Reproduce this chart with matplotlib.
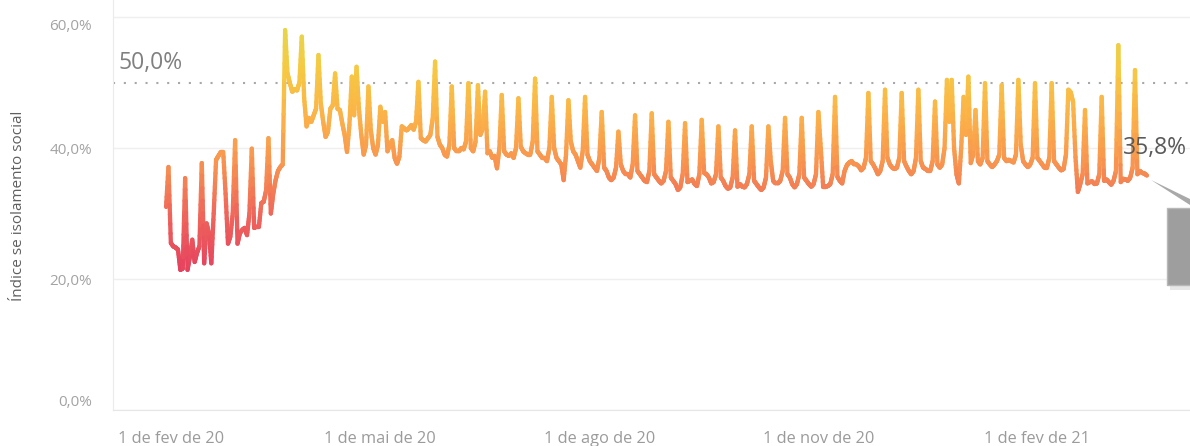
import numpy as np
import pandas as pd
import matplotlib
matplotlib.use("Agg")
import matplotlib.pyplot as plt
import matplotlib.dates as mdates
from matplotlib.collections import LineCollection
from matplotlib.colors import LinearSegmentedColormap, Normalize
from matplotlib.patches import Rectangle, Polygon
from matplotlib.transforms import ScaledTranslation

# índice diário de isolamento social (%), por mês
fev_20 = [31.0, 37.1, 25.5, 25.0, 24.8, 24.5, 21.4, 21.6, 35.4, 21.4, 23.4, 26.0, 22.6, 24.0, 25.0,
          37.7, 22.4, 28.5, 27.0, 22.4, 30.0, 38.2, 38.8, 39.4, 39.4, 33.0, 25.4, 26.5, 30.0]
mar_20 = [41.2, 25.4, 27.0, 27.5, 27.8, 26.7, 30.0, 39.9, 27.8, 28.0, 28.0, 31.6, 31.8, 33.5, 41.5,
          30.0, 33.0, 35.1, 36.5, 37.1, 37.5, 58.0, 51.4, 49.9, 48.6, 49.0, 48.8, 50.0, 57.0, 47.6, 43.3]
abr_20 = [44.6, 44.0, 45.0, 46.0, 54.2, 46.8, 44.0, 41.7, 42.5, 46.0, 46.5, 51.4, 46.0, 45.8, 43.8,
          42.0, 39.4, 43.5, 50.9, 45.0, 52.4, 46.0, 42.0, 39.0, 40.5, 49.4, 42.7, 40.0, 39.0, 40.5]
mai_20 = [46.3, 44.0, 45.5, 39.5, 40.5, 41.2, 38.5, 37.6, 38.7, 43.3, 43.0, 42.7, 43.0, 43.5, 42.8,
          44.0, 50.1, 41.5, 41.2, 41.0, 41.5, 42.0, 44.5, 53.2, 41.7, 40.5, 40.0, 39.0, 38.7, 40.5, 49.4]
jun_20 = [40.0, 39.5, 39.5, 40.0, 39.8, 41.0, 49.9, 40.0, 39.5, 41.0, 49.6, 42.0, 43.0, 48.6, 39.2,
          39.5, 38.5, 38.8, 36.9, 40.0, 48.1, 39.5, 39.0, 38.8, 39.2, 38.5, 40.0, 47.6, 40.2, 39.5]
jul_20 = [39.2, 39.0, 39.0, 41.0, 50.6, 39.5, 39.0, 38.5, 38.5, 38.0, 40.0, 47.8, 40.0, 38.5, 38.0,
          37.5, 35.1, 39.0, 47.3, 41.0, 39.5, 39.0, 38.0, 37.0, 39.5, 47.8, 39.0, 38.0, 37.5, 37.0, 36.5]
ago_20 = [38.5, 45.5, 37.0, 36.5, 35.5, 35.1, 35.5, 37.0, 42.5, 37.5, 36.5, 36.0, 36.0, 35.5, 37.5,
          45.0, 36.5, 36.0, 35.5, 35.0, 34.8, 36.5, 45.3, 36.0, 35.5, 35.0, 34.6, 35.0, 36.5, 44.0, 35.5]
set_20 = [35.0, 34.5, 33.6, 34.0, 36.0, 43.8, 34.8, 35.0, 35.2, 34.5, 34.2, 36.0, 44.3, 36.2, 36.0,
          35.5, 34.6, 34.8, 36.0, 43.3, 35.5, 35.0, 34.2, 33.8, 34.0, 35.5, 42.7, 34.1, 34.5, 34.1]
out_20 = [34.0, 34.5, 36.0, 43.3, 35.0, 34.5, 34.0, 33.6, 34.0, 35.5, 43.3, 38.0, 35.0, 34.6, 34.6,
          35.0, 36.5, 44.6, 36.0, 35.5, 34.5, 34.0, 34.5, 36.0, 44.6, 35.5, 35.0, 34.5, 34.1, 34.5, 36.0]
nov_20 = [45.5, 40.0, 34.1, 34.1, 34.2, 34.5, 36.0, 47.8, 35.6, 35.0, 34.6, 36.5, 37.4, 37.8, 38.0,
          37.5, 37.5, 37.2, 36.6, 37.0, 38.5, 48.4, 38.0, 37.5, 36.8, 36.0, 36.5, 38.0, 48.9, 38.5]
dez_20 = [37.5, 37.0, 36.8, 37.0, 38.5, 48.4, 38.0, 37.2, 36.5, 36.0, 36.5, 38.5, 48.9, 38.0, 37.0,
          36.8, 36.5, 36.5, 38.0, 47.1, 37.5, 37.0, 37.5, 40.0, 50.4, 44.0, 50.4, 40.0, 36.0, 34.6, 40.0]
jan_21 = [47.8, 42.0, 50.9, 37.7, 39.0, 45.8, 38.0, 37.5, 38.5, 49.9, 38.0, 37.5, 37.1, 37.5, 38.0,
          39.0, 49.6, 38.5, 38.0, 38.2, 38.0, 37.8, 39.0, 50.4, 40.5, 38.0, 37.5, 37.1, 37.5, 38.5, 49.9]
fev_21 = [38.5, 38.0, 37.5, 37.0, 37.0, 38.5, 49.9, 38.0, 37.5, 37.0, 36.6, 36.8, 39.0, 48.9, 48.5,
          47.0, 38.6, 33.3, 34.5, 36.0, 45.8, 34.6, 34.8, 34.9, 34.5, 34.6, 36.0, 47.8]
mar_21 = [35.0, 35.2, 34.8, 34.4, 35.0, 36.5, 55.7, 34.8, 35.3, 35.2, 35.0, 35.5, 37.0, 51.9, 36.0,
          36.5, 36.2, 36.1, 35.8]

inicio = "2020-02-01"
ticks_x = ["2020-02-01", "2020-05-01", "2020-08-01", "2020-11-01", "2021-02-01"]
rotulos_x = ["1 de fev de 20", "1 de mai de 20", "1 de ago de 20", "1 de nov de 20", "1 de fev de 21"]
ticks_y = [0, 20, 40, 60]
rotulos_y = ["0,0%", "20,0%", "40,0%", "60,0%"]
referencia = 50.0
rotulo_ref = "50,0%"

serie = (fev_20 + mar_20 + abr_20 + mai_20 + jun_20 + jul_20 + ago_20 + set_20 + out_20
         + nov_20 + dez_20 + jan_21 + fev_21 + mar_21)
datas = pd.date_range(inicio, periods=len(serie), freq="D")

plt.rcParams["font.family"] = ["Open Sans", "DejaVu Sans"]

W, H = 1190, 446
fig = plt.figure(figsize=(W / 100, H / 100), dpi=100)
ax = fig.add_axes([113 / W, 36 / H, 1 - 113 / W, 410 / H])

x = mdates.date2num(datas)
y = np.array(serie)

# cor segue o valor (vermelho baixo -> amarelo alto); cada trecho é repartido só para pintar o degradê
cmap = LinearSegmentedColormap.from_list("sol", [
    (0.00, "#e43c5f"), (0.26, "#ef665b"), (0.47, "#f8954f"),
    (0.66, "#fbb348"), (0.84, "#f6c943"), (1.00, "#e6d648")])
norm = Normalize(vmin=20, vmax=58)
t = np.linspace(0, 1, 9)
segs, vals = [], []
for i in range(len(x) - 1):
    px = x[i] + (x[i + 1] - x[i]) * t
    py = y[i] + (y[i + 1] - y[i]) * t
    for j in range(len(t) - 1):
        segs.append([(px[j], py[j]), (px[j + 1], py[j + 1])])
        vals.append((py[j] + py[j + 1]) / 2)
lc = LineCollection(segs, cmap=cmap, norm=norm, linewidths=3.1, capstyle="round", joinstyle="round", zorder=3)
lc.set_array(np.array(vals))
ax.add_collection(lc)

x0 = mdates.date2num(pd.Timestamp(inicio))
ax.set_xlim(x0 - 22.3, x0 + 430.1)
ax.set_ylim(0, 62.6)

ax.axhline(referencia, color="#a8a8a8", lw=1.5, linestyle=(0, (1, 4.2)), zorder=2)
ax.text(5 / 1077, 53.0, rotulo_ref, transform=ax.get_yaxis_transform(), fontsize=16.5,
        color="#808080", va="center", ha="left")

# rótulo do último valor
ultimo = serie[-1]
ax.text(x0 + (1123 - 166) / 2.381, 40.0, f"{ultimo:.1f}%".replace(".", ","), fontsize=16.5,
        color="#5a5a5a", va="center", ha="left", clip_on=False, zorder=5)

# caixa cinza de destaque à direita
def fx(p):
    return p / W

def fy(p):
    return 1 - p / H

fig.patches.append(Rectangle((fx(1170), fy(290)), fx(40), 78 / H, transform=fig.transFigure,
                             facecolor="#d8d8d8", edgecolor="none", alpha=0.6, zorder=4))
fig.patches.append(Rectangle((fx(1167), fy(285)), fx(40), 77 / H, transform=fig.transFigure,
                             facecolor="#9e9e9e", edgecolor="#b8b8b8", lw=1, zorder=5))
fig.patches.append(Polygon([(fx(1151), fy(180)), (fx(1190), fy(199)), (fx(1190), fy(205))],
                           closed=True, transform=fig.transFigure, facecolor="#a9a9a9",
                           edgecolor="none", zorder=5))

ax.set_yticks(ticks_y)
ax.set_yticklabels(rotulos_y)
ax.set_xticks([mdates.date2num(pd.Timestamp(d)) for d in ticks_x])
ax.set_xticklabels(rotulos_x)
ax.grid(axis="y", color="#efefef", lw=1, zorder=0)
ax.tick_params(axis="both", length=0)
ax.tick_params(axis="y", pad=15, labelsize=11, labelcolor="#a3a3a3")
ax.tick_params(axis="x", pad=15, labelsize=11.8, labelcolor="#9b9b9b")
for s in ["top", "right"]:
    ax.spines[s].set_visible(False)
ax.spines["left"].set_color("#ebebeb")
ax.spines["bottom"].set_color("#e6e6e6")

# ajustes de posição dos rótulos das pontas, como no original
lbx = ax.get_xticklabels()
lbx[0].set_horizontalalignment("left")
lbx[0].set_transform(lbx[0].get_transform() + ScaledTranslation(-48 / 100, 0, fig.dpi_scale_trans))
lby = ax.get_yticklabels()
lby[0].set_transform(lby[0].get_transform() + ScaledTranslation(0, 10 / 100, fig.dpi_scale_trans))
lby[-1].set_transform(lby[-1].get_transform() + ScaledTranslation(0, -7 / 100, fig.dpi_scale_trans))

ax.set_ylabel("Índice se isolamento social", fontsize=11, color="#5f5f5f")
ax.yaxis.set_label_coords(-87 / 1077, 0.4976)

fig.savefig("out.png", dpi=100)
